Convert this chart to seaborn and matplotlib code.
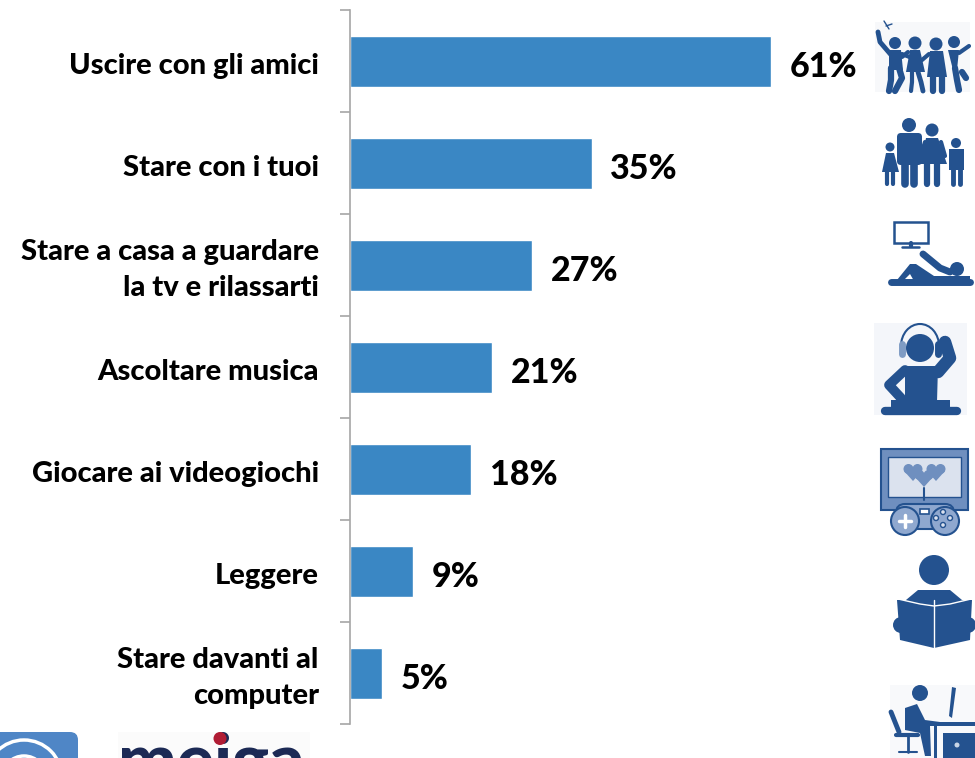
import numpy as np
import pandas as pd
import matplotlib
matplotlib.use("Agg")
import matplotlib.pyplot as plt
import seaborn as sns
from matplotlib.patches import Circle, Rectangle, FancyBboxPatch, Polygon, Arc
from matplotlib.transforms import ScaledTranslation

# Data
categories = ["Uscire con gli amici", "Stare con i tuoi", "Stare a casa a guardare\nla tv e rilassarti",
              "Ascoltare musica", "Giocare ai videogiochi", "Leggere", "Stare davanti al\ncomputer"]
values = [61, 35, 26.4, 20.6, 17.6, 9.1, 4.6]
value_labels = ["61%", "35%", "27%", "21%", "18%", "9%", "5%"]

BAR = "#3a87c4"
ICON = "#24528f"

sns.set_theme(style="white")
plt.rcParams['font.family'] = ['Lato', 'DejaVu Sans']

df = pd.DataFrame({"Attivita": categories, "Percentuale": values})

fig = plt.figure(figsize=(9.75, 7.58), dpi=100)
ax = fig.add_axes([350 / 975, 1 - 724 / 758, 1 - 350 / 975, 714 / 758])
sns.barplot(data=df, x="Percentuale", y="Attivita", color=BAR, saturation=1, width=0.5, ax=ax)
ax.set_xlim(0, 625 / 6.9)
ax.set_xlabel("")
ax.set_ylabel("")
ax.xaxis.set_visible(False)
sns.despine(ax=ax, top=True, right=True, bottom=True)
ax.spines['left'].set_color("#a6a6a6")
ax.spines['left'].set_linewidth(1.2)

# category labels on major ticks, separators on minor ticks
ax.set_yticks(range(len(categories)))
ax.set_yticklabels(categories, fontsize=21, fontweight=900, color='black', ma='right', linespacing=1.48)
ax.set_yticks(np.arange(-0.5, len(categories)), minor=True)
ax.tick_params(axis='y', which='major', length=0, pad=22.5)
ax.tick_params(axis='y', which='minor', left=True, length=7.5, width=1.2, color="#a6a6a6")
for lab in ax.get_yticklabels():
    dy = 2.5 if "\n" in lab.get_text() else -2.5
    lab.set_transform(lab.get_transform() + ScaledTranslation(0, dy / 100, fig.dpi_scale_trans))

anns = ax.bar_label(ax.containers[0], labels=value_labels, padding=13.5, fontsize=24.5, fontweight=900, color='black')
for a in anns:
    a.xyann = (a.xyann[0], a.xyann[1] - 4.5)

# overlay in pixel coordinates for the pictograms and logos
ov = fig.add_axes([0, 0, 1, 1], zorder=5)
ov.set_xlim(0, 975)
ov.set_ylim(758, 0)
ov.axis('off')
ov.patch.set_alpha(0)


def head(x, y, r, c=ICON):
    ov.add_patch(Circle((x, y), r, color=c, lw=0))


def limb(xs, ys, w=4.5, c=ICON):
    ov.plot(xs, ys, color=c, lw=w, solid_capstyle='round', solid_joinstyle='round')


def poly(pts, c=ICON):
    ov.add_patch(Polygon(pts, closed=True, color=c, lw=0))


# friends
ov.add_patch(Rectangle((875, 22), 95, 70, color="#f7f8fa", lw=0))
limb([878, 880, 892], [32, 42, 56], 3.5)
limb([884, 889], [21, 29], 1)
limb([886, 892], [26, 24], 1)
head(895, 43, 6)
poly([(889, 50), (901, 50), (903, 70), (889, 70)])
limb([891, 891, 889], [68, 80, 91], 4.5)
limb([899, 902, 895], [68, 78, 91], 4.5)
limb([902, 912], [54, 58], 3)
head(915, 43, 6.5)
poly([(910, 50), (920, 50), (925, 72), (906, 72)])
limb([912, 912, 911], [72, 82, 91], 3)
limb([918, 921, 923], [72, 82, 91], 3.5)
limb([908, 902], [52, 57], 3)
head(936, 44, 6.5)
poly([(930, 51), (943, 51), (947, 77), (927, 77)])
limb([933, 933], [76, 91], 4.5)
limb([942, 942], [76, 91], 4.5)
limb([929, 922], [54, 60], 3)
head(954, 42, 6)
poly([(948, 50), (959, 50), (957, 70), (953, 70)])
limb([959, 969], [53, 46], 3)
limb([955, 957, 959], [68, 80, 90], 4.5)
limb([962, 966], [72, 78], 4.5)

# family
head(909, 125, 7)
ov.add_patch(FancyBboxPatch((897, 133), 25, 32, boxstyle="round,pad=0,rounding_size=4", color=ICON, lw=0))
limb([905, 905], [160, 184], 5.5)
limb([914, 914], [160, 184], 5.5)
head(932, 130, 6.5)
poly([(926, 138), (938, 138), (947, 164), (920, 164)])
limb([927, 927], [162, 184], 4.5)
limb([937, 937], [162, 184], 4.5)
limb([925, 920], [142, 158], 3)
limb([941, 945], [142, 156], 3)
head(890, 147, 4.5)
poly([(886, 153), (894, 153), (899, 172), (882, 172)])
limb([887, 887], [170, 184], 3)
limb([893, 893], [170, 184], 3)
head(956, 143, 5)
poly([(949, 149), (964, 149), (964, 170), (949, 170)])
limb([953, 953], [168, 184], 3.5)
limb([960, 960], [168, 184], 3.5)

# tv and person on the sofa
ov.add_patch(Rectangle((894, 222), 34, 21, fill=False, edgecolor=ICON, lw=1.8))
limb([911, 911], [243, 246], 3)
limb([902, 919], [247, 247], 1.8)
limb([891, 970], [282, 282], 5)
poly([(897, 280), (910, 264), (916, 264), (934, 276), (970, 276), (970, 281), (914, 281), (910, 274), (903, 281)])
head(957, 269, 7)
limb([923, 940, 950], [254, 268, 272], 5)

# music
ov.add_patch(Rectangle((874, 323), 93, 92, color="#f4f6fa", lw=0))
head(920, 348, 14)
ov.add_patch(Arc((920, 346), 38, 44, theta1=180, theta2=360, edgecolor=ICON, lw=1.5))
limb([902, 902], [344, 354], 5, "#7f9cc4")
limb([938, 938], [344, 354], 5)
poly([(905, 366), (938, 366), (937, 402), (905, 402)])
limb([905, 889, 901], [370, 385, 398], 7)
limb([938, 950, 945], [372, 358, 342], 9)
limb([885, 957], [411, 411], 6)
poly([(891, 400), (950, 400), (950, 410), (891, 410)])

# game
ov.add_patch(Rectangle((881, 449), 87, 61, facecolor="#6f8fbf", edgecolor=ICON, lw=1.5))
ov.add_patch(Rectangle((888, 457), 73, 40, facecolor="#dbe2ee", edgecolor=ICON, lw=1))
for hx, hy in [(913, 471), (936, 471), (924, 477)]:
    head(hx - 4.5, hy - 2, 5, "#6f8fbf")
    head(hx + 4.5, hy - 2, 5, "#6f8fbf")
    poly([(hx - 9, hy), (hx + 9, hy), (hx, hy + 10)], "#6f8fbf")
limb([924, 924], [488, 500], 1.5)
ov.add_patch(FancyBboxPatch((896, 504), 58, 25, boxstyle="round,pad=0,rounding_size=9", facecolor="#8fa8cf", edgecolor=ICON, lw=1.5))
head(905, 521, 14, "#8fa8cf")
head(945, 521, 14, "#8fa8cf")
ov.add_patch(Circle((905, 521), 14, fill=False, edgecolor=ICON, lw=1.5))
ov.add_patch(Circle((945, 521), 14, fill=False, edgecolor=ICON, lw=1.5))
limb([899, 911], [521, 521], 2.5, "white")
limb([905, 905], [515, 527], 2.5, "white")
ov.add_patch(Rectangle((920, 509), 9, 5, facecolor="white", edgecolor=ICON, lw=1.2))
for bx, by in [(943, 512), (950, 518), (943, 525), (936, 518)]:
    ov.add_patch(Circle((bx, by), 2.5, facecolor="#dbe2ee", edgecolor=ICON, lw=1))

# reader
head(934, 570, 15)
poly([(906, 600), (918, 590), (950, 590), (962, 600), (972, 600), (970, 640), (934, 648), (900, 640), (897, 600)])
limb([934, 934], [600, 648], 1, "white")
limb([898, 920, 934, 950, 971], [599, 604, 606, 604, 599], 1, "white")
head(901, 625, 8)
head(968, 625, 8)

# desk operator
ov.add_patch(Rectangle((890, 685), 85, 73, color="#f8f9fb", lw=0))
head(920, 693, 8)
poly([(905, 708), (917, 704), (925, 720), (940, 722), (940, 726), (930, 726), (931, 756), (925, 756), (920, 733), (905, 730)])
limb([891, 899], [712, 732], 3.5)
limb([896, 918], [735, 735], 3)
limb([908, 908], [735, 752], 2)
limb([899, 917], [752, 752], 1.5)
poly([(952, 687), (956, 688), (952, 718), (949, 716)])
ov.add_patch(Rectangle((934, 722), 41, 4, color=ICON, lw=0))
ov.add_patch(Rectangle((934, 726), 3, 32, color=ICON, lw=0))
ov.add_patch(Rectangle((943, 733), 32, 25, color=ICON, lw=0))
ov.add_patch(Circle((957, 745), 2.5, color="#c9d5e6", lw=0))

# logos, cut by the bottom edge
ov.add_patch(FancyBboxPatch((-20, 732), 98, 60, boxstyle="round,pad=0,rounding_size=8", color="#4f86c6", lw=0))
ov.add_patch(Circle((24, 778), 38, fill=False, edgecolor="white", lw=2.5))
ov.add_patch(Circle((24, 778), 22, fill=False, edgecolor="white", lw=2.5))
ov.add_patch(Rectangle((118, 732), 192, 26, color="#fbfbfb", lw=0))
logo = ov.text(211, 783, "meiga", fontsize=50, fontweight=900, color="#1c2a55", ha='center', va='baseline')
logo.set_clip_path(Rectangle((118, 747), 192, 11, transform=ov.transData))
ov.add_patch(Circle((220, 738.5), 6.5, color="#b01c34", lw=0, zorder=6))

fig.savefig("out.png", dpi=100)
